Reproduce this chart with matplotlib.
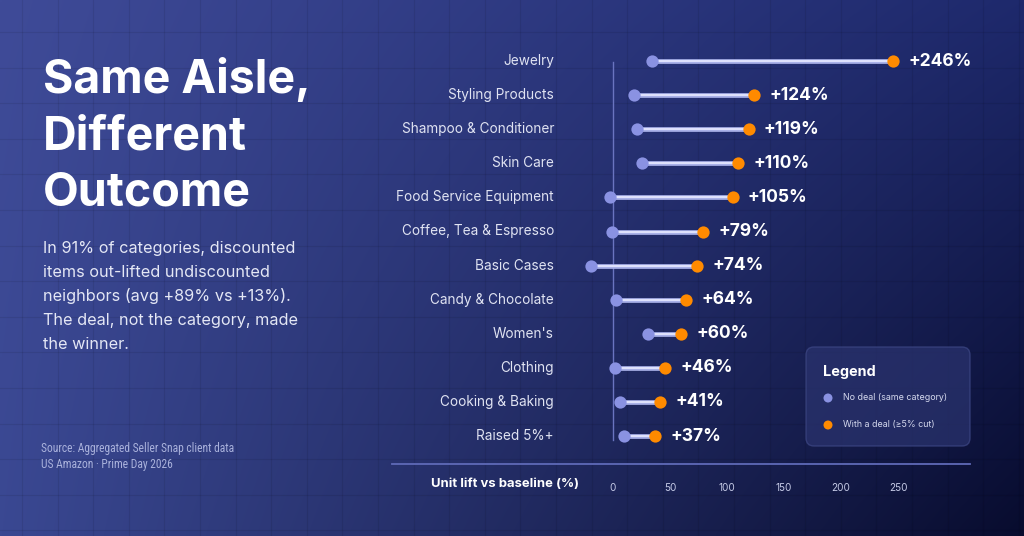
import numpy as np
import matplotlib
matplotlib.use("Agg")
import matplotlib.pyplot as plt
from matplotlib.patches import FancyBboxPatch
from matplotlib import font_manager

# ---------------- data ----------------
categories = ["Jewelry", "Styling Products", "Shampoo & Conditioner", "Skin Care",
              "Food Service Equipment", "Coffee, Tea & Espresso", "Basic Cases",
              "Candy & Chocolate", "Women's", "Clothing", "Cooking & Baking", "Raised 5%+"]
no_deal = [34, 18, 21, 25, -3, -1, -19, 3, 31, 2, 6, 10]
with_deal = [246, 124, 119, 110, 105, 79, 74, 64, 60, 46, 41, 37]
value_labels = ["+246%", "+124%", "+119%", "+110%", "+105%", "+79%", "+74%",
                "+64%", "+60%", "+46%", "+41%", "+37%"]
x_ticks = [0, 50, 100, 150, 200, 250]

title_lines = ["Same Aisle,", "Different", "Outcome"]
para_lines = ["In 91% of categories, discounted",
              "items out-lifted undiscounted",
              "neighbors (avg +89% vs +13%).",
              "The deal, not the category, made",
              "the winner."]
source_lines = ["Source: Aggregated Seller Snap client data",
                "US Amazon \u00b7 Prime Day 2026"]

FONT = "Inter"
plt.rcParams['font.family'] = [FONT, 'DejaVu Sans']

# pick a condensed font for the source note if one is installed
names = {f.name for f in font_manager.fontManager.ttflist}
cond_stretch = {f.name for f in font_manager.fontManager.ttflist
                if str(f.stretch) in ("condensed", "semi-condensed", "extra-condensed")}
src_kw = dict(family=["Roboto", "DejaVu Sans"], fontsize=7.4)
for cand in ["Liberation Sans Narrow", "Roboto Condensed", "Noto Sans Condensed",
             "Open Sans Condensed", "DejaVu Sans Condensed"]:
    if cand in names:
        src_kw = dict(family=[cand, "DejaVu Sans"], fontsize=8.3)
        break
else:
    for cand in ["Roboto", "Noto Sans", "Open Sans", "DejaVu Sans"]:
        if cand in cond_stretch:
            src_kw = dict(family=[cand, "DejaVu Sans"], fontstretch="condensed", fontsize=8.3)
            break

W, H = 1024, 536
fig = plt.figure(figsize=(W / 100, H / 100), dpi=100)

# ---------------- background ----------------
bg = fig.add_axes([0, 0, 1, 1])
bg.set_xlim(0, W)
bg.set_ylim(H, 0)
bg.axis("off")
TL = np.array([63, 75, 152]) / 255
TR = np.array([30, 41, 108]) / 255
BL = np.array([58, 72, 146]) / 255
BR = np.array([8, 12, 46]) / 255
u = np.linspace(0, 1, 256)[None, :, None]
v = np.linspace(0, 1, 140)[:, None, None]
img = (TL * (1 - u) * (1 - v) + TR * u * (1 - v) + BL * (1 - u) * v + BR * u * v)
bg.imshow(img, extent=[0, W, H, 0], aspect="auto", interpolation="bilinear", zorder=0)
step = 35.6
for gx in np.arange(22, W, step):
    bg.plot([gx, gx], [0, H], color="black", alpha=0.08, lw=0.8, zorder=1)
for gy in np.arange(32, H, step):
    bg.plot([0, W], [gy, gy], color="black", alpha=0.08, lw=0.8, zorder=1)

def px(x, y):
    return x / W, 1 - y / H

# ---------------- left text ----------------
for line, yb in zip(title_lines, [93, 150, 206]):
    fig.text(*px(43, yb), line, fontsize=33.5, fontweight="bold", color="white",
             va="baseline", ha="left")
for line, yb in zip(para_lines, [253, 277, 301, 325, 349]):
    fig.text(*px(43, yb), line, fontsize=11.7, color="#e4e7f5",
             va="baseline", ha="left")
for line, yb in zip(source_lines, [452, 468]):
    fig.text(*px(41, yb), line, color="#aab2dc", va="baseline", ha="left", **src_kw)

# ---------------- chart ----------------
ax_left, ax_right = 392, 970
ax_top, ax_bot = 44, 464
ax = fig.add_axes([ax_left / W, 1 - ax_bot / H, (ax_right - ax_left) / W, (ax_bot - ax_top) / H])
ax.set_facecolor("none")
zero_px, ppu = 613, 1.14
ax.set_xlim((ax_left - zero_px) / ppu, (ax_right - zero_px) / ppu)
row0, rowstep = 61, 34.1
ax.set_ylim((ax_bot - row0) / rowstep, (ax_top - row0) / rowstep)

ypos = np.arange(len(categories))
ax.plot([0, 0], [(62 - row0) / rowstep, (440 - row0) / rowstep], color="#6a74c0", lw=1, zorder=1)
ax.hlines(ypos, no_deal, with_deal, color="#a9b1e8", lw=3.4, zorder=2)
ax.hlines(ypos, no_deal, with_deal, color="#e4e7ff", lw=1.3, zorder=2.5)
ax.scatter(no_deal, ypos, s=78, color="#8a92e2", zorder=3, linewidths=0)
ax.scatter(with_deal, ypos, s=78, color="#ff8a00", zorder=4, linewidths=0)

for y, xv, lab in zip(ypos, with_deal, value_labels):
    ax.annotate(lab, (xv, y), xytext=(11, 0), textcoords="offset points",
                fontsize=12.5, fontweight="bold", color="white", va="center", ha="left")

ax.set_yticks([])
for y, cat in zip(ypos, categories):
    ax.text((554 - zero_px) / ppu, y, cat, fontsize=9.8, color="#e0e3f2",
            ha="right", va="center")

ax.set_xticks(x_ticks)
ax.set_xticklabels([str(t) for t in x_ticks], fontsize=7.2, color="#c5cae6")
ax.tick_params(axis="x", length=0, pad=14)

for s in ["top", "right", "left"]:
    ax.spines[s].set_visible(False)
ax.spines["bottom"].set_color("#5f6ab8")
ax.spines["bottom"].set_linewidth(1.3)

fig.text(*px(505, 484), "Unit lift vs baseline (%)", fontsize=9.4, fontweight="bold",
         color="white", ha="center", va="center")

# ---------------- legend ----------------
lx0, ly0, lx1, ly1 = 806, 347, 970, 446
box = FancyBboxPatch((lx0 + 6, ly0 + 6), (lx1 - lx0) - 12, (ly1 - ly0) - 12,
                     boxstyle="round,pad=6,rounding_size=8",
                     facecolor="#2b3470", edgecolor="#3e4886", lw=1, alpha=0.7, zorder=5)
bg.add_patch(box)
bg.text(823, 372, "Legend", fontsize=10.4, fontweight="bold", color="white",
        va="center", ha="left", zorder=6)
bg.scatter([828, 828], [398, 425], s=42, color=["#8a92e2", "#ff8a00"], zorder=6, linewidths=0)
bg.text(843, 398, "No deal (same category)", fontsize=6.4, color="#d5d9ee",
        va="center", ha="left", zorder=6)
bg.text(843, 425, "With a deal (\u22655% cut)", fontsize=6.4, color="#d5d9ee",
        va="center", ha="left", zorder=6)

fig.savefig("out.png", dpi=100)
